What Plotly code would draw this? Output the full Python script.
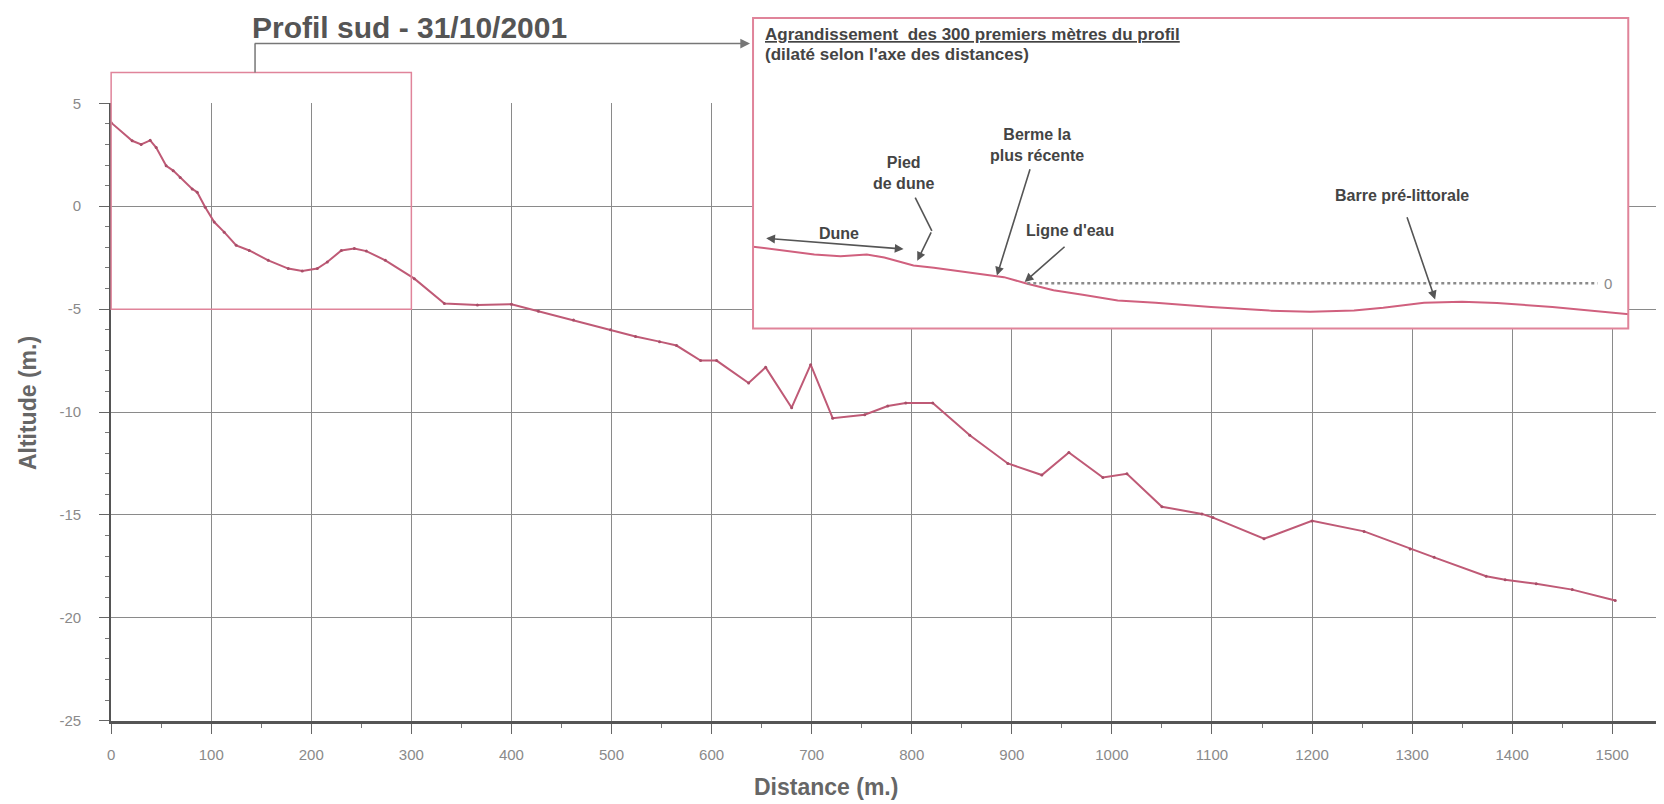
import plotly.graph_objects as go

# ---------------- data ----------------
distance_m = [0, 21, 30, 39, 45, 55, 62, 69, 81, 86, 94, 103, 113, 125, 138, 157, 177, 191,
              206, 216, 230, 243, 255, 274, 303, 333, 366, 400, 427, 462, 499, 524, 548, 565,
              589, 605, 637, 654, 680, 699, 721, 753, 776, 794, 821, 858, 896, 930, 957, 991,
              1015, 1050, 1090, 1101, 1152, 1200, 1252, 1298, 1322, 1374, 1393, 1424, 1460, 1503]
altitude_m = [4.06, 3.18, 3.0, 3.2, 2.85, 1.97, 1.73, 1.4, 0.84, 0.68, -0.05, -0.77, -1.26, -1.9,
              -2.15, -2.63, -3.03, -3.15, -3.03, -2.71, -2.15, -2.06, -2.18, -2.63, -3.52, -4.73,
              -4.8, -4.76, -5.1, -5.53, -6.0, -6.33, -6.58, -6.77, -7.5, -7.5, -8.59, -7.83, -9.79,
              -7.7, -10.3, -10.13, -9.71, -9.56, -9.56, -11.13, -12.5, -13.06, -11.97, -13.18,
              -13.0, -14.6, -14.95, -15.13, -16.16, -15.29, -15.8, -16.65, -17.06, -17.98, -18.15,
              -18.35, -18.63, -19.16]
x_ticks = list(range(0, 1501, 100))
y_ticks = [-25, -20, -15, -10, -5, 0, 5]
y_tick_labels = ["-25", "-20", "-15", "-10", "-5", "0", "5"]

title_text = "Profil sud - 31/10/2001"
inset_title_1 = "Agrandissement  des 300 premiers mètres du profil"
inset_title_2 = "(dilaté selon l'axe des distances)"
water_level = 0
water_line_x = [94, 289.5]

# ---------------- layout helpers ----------------
W, H = 1664, 804
# observed mapping figure-pixel -> photographed pixel
AX, BX, AY, BY = 0.995, 9.0, 0.983, 15.3
def fxp(R):   # photographed x -> figure pixel
    return (R - BX) / AX
def fyp(R):
    return (R - BY) / AY
def px(R):
    return min(max(fxp(R) / W, 0.0), 1.0)
def py(R):
    return min(max(1 - fyp(R) / H, 0.0), 1.0)

MAIN_L, MAIN_R, MAIN_T, MAIN_B = 108, 1655, 102, 722
X_RANGE = [0, 1548]
Y_RANGE = [-25, 5]
INS_L, INS_R, INS_T, INS_B = 749, 1623, 11, 328
INS_Y_RANGE = [-5, 30]
ins_top_R = max(INS_T, BY + 1)
ins_y_top = INS_Y_RANGE[1] - (ins_top_R - INS_T) / (INS_B - INS_T) * (INS_Y_RANGE[1] - INS_Y_RANGE[0])

def mx(v):
    return MAIN_L + (v - X_RANGE[0]) / (X_RANGE[1] - X_RANGE[0]) * (MAIN_R - MAIN_L)
def my(v):
    return MAIN_B - (v - Y_RANGE[0]) / (Y_RANGE[1] - Y_RANGE[0]) * (MAIN_B - MAIN_T)

PINK = "#bf5a76"
PINK_BOX = "#e0849a"
GRID = "#8a8a8a"
AXIS = "#555555"
TXT = "#444444"
FONT = "Liberation Sans, Arial, sans-serif"

fig = go.Figure()
fig.add_trace(go.Scatter(x=distance_m, y=altitude_m, mode="lines+markers",
                         line=dict(color=PINK, width=2),
                         marker=dict(size=3, color="#a84e68"),
                         xaxis="x", yaxis="y", hoverinfo="skip"))
fig.add_trace(go.Scatter(x=distance_m, y=altitude_m, mode="lines",
                         line=dict(color="#d0607e", width=2),
                         xaxis="x2", yaxis="y2", hoverinfo="skip"))

shapes = []
annotations = []

CONN_Y = 42
# magnified-region box on the main chart (0-300 m, down to -5 m)
shapes.append(dict(type="rect", xref="paper", yref="paper",
                   x0=px(mx(0)), x1=px(mx(300)), y0=py(my(-5)), y1=py(71),
                   line=dict(color=PINK_BOX, width=1.5), fillcolor="rgba(0,0,0,0)", layer="above"))
# connector to the inset
shapes.append(dict(type="line", xref="paper", yref="paper",
                   x0=px(251.7), x1=px(251.7), y0=py(71), y1=py(CONN_Y),
                   line=dict(color="#777777", width=1.5)))
annotations.append(dict(xref="paper", yref="paper", x=px(746), y=py(CONN_Y),
                        ax=fxp(251.7) - fxp(746), ay=0, axref="pixel", ayref="pixel",
                        text="", showarrow=True, arrowhead=2, arrowsize=1.3,
                        arrowwidth=1.5, arrowcolor="#777777"))
# inset frame
shapes.append(dict(type="rect", xref="paper", yref="paper",
                   x0=px(INS_L), x1=px(INS_R), y0=py(INS_B), y1=1 - 1.0 / H,
                   line=dict(color=PINK_BOX, width=2), fillcolor="rgba(0,0,0,0)", layer="above"))
# water line in the inset
shapes.append(dict(type="line", xref="x2", yref="y2",
                   x0=water_line_x[0], x1=water_line_x[1], y0=water_level, y1=water_level,
                   line=dict(color="#8a8a8a", width=2.5, dash="dot"), layer="above"))
annotations.append(dict(xref="x2", yref="y2", x=293, y=water_level, text="0",
                        showarrow=False, font=dict(family=FONT, size=15, color="#8a8a8a")))

# title (baseline near y=36 of the photo)
TITLE_FS = 30
title_bottom_fig = fyp(36) + 0.212 * TITLE_FS + 2
annotations.append(dict(xref="paper", yref="paper", x=px(247), y=1 - title_bottom_fig / H,
                        xanchor="left", yanchor="bottom", text="<b>" + title_text + "</b>",
                        showarrow=False, font=dict(family=FONT, size=TITLE_FS, color="#555555")))
# inset titles
annotations.append(dict(xref="paper", yref="paper", x=px(759), y=py(33),
                        xanchor="left", yanchor="middle",
                        text="<b><u>" + inset_title_1 + "</u></b>",
                        showarrow=False, font=dict(family=FONT, size=17, color=TXT)))
annotations.append(dict(xref="paper", yref="paper", x=px(759), y=py(53),
                        xanchor="left", yanchor="middle", text="<b>" + inset_title_2 + "</b>",
                        showarrow=False, font=dict(family=FONT, size=17, color=TXT)))

# inset labels
lab_font = dict(family=FONT, size=16, color=TXT)
def label(x, y, text):
    annotations.append(dict(xref="x2", yref="y2", x=x, y=y, text="<b>" + text + "</b>",
                            showarrow=False, font=lab_font, align="center",
                            xanchor="center", yanchor="middle"))
def arrow(x0, y0, x1, y1, side="end"):
    annotations.append(dict(xref="x2", yref="y2", axref="x2", ayref="y2",
                            x=x1, y=y1, ax=x0, ay=y0, text="", showarrow=True,
                            arrowhead=2, startarrowhead=2, arrowside=side, arrowsize=1.1,
                            arrowwidth=1.6, arrowcolor="#555555"))

label(29.4, 5.5, "Dune")
arrow(4.0, 5.0, 51.6, 3.8, side="end+start")
label(51.6, 12.2, "Pied<br>de dune")
shapes.append(dict(type="line", xref="x2", yref="y2", x0=55.6, y0=9.5, x1=61.3, y1=5.8,
                   line=dict(color="#555555", width=1.6)))
arrow(61.3, 5.8, 56.3, 2.5)
label(97.5, 15.3, "Berme la<br>plus récente")
arrow(95.1, 12.8, 83.6, 0.85)
label(108.7, 5.8, "Ligne d'eau")
arrow(107.3, 4.2, 93.1, 0.15)
label(222.5, 9.7, "Barre pré-littorale")
arrow(224.0, 7.5, 233.8, -1.8)

# axis titles
annotations.append(dict(xref="paper", yref="paper", x=px(25), y=py(403),
                        xanchor="center", yanchor="middle",
                        text="<b>Altitude (m.)</b>", textangle=-90, showarrow=False,
                        font=dict(family=FONT, size=23, color="#666666")))
annotations.append(dict(xref="paper", yref="paper", x=px(822), y=1 - 802.0 / H,
                        xanchor="center", yanchor="bottom",
                        text="<b>Distance (m.)</b>", showarrow=False,
                        font=dict(family=FONT, size=23, color="#666666")))

tickfont = dict(family=FONT, size=15, color="#8a8a8a")
fig.update_layout(
    width=W, height=H, margin=dict(l=0, r=0, t=0, b=0),
    paper_bgcolor="white", plot_bgcolor="white", showlegend=False,
    xaxis=dict(domain=[px(MAIN_L), px(MAIN_R)], range=X_RANGE, tickvals=x_ticks,
               showgrid=True, gridcolor=GRID, gridwidth=1, zeroline=False,
               showline=True, linecolor=AXIS, linewidth=3,
               ticks="outside", ticklen=10, tickcolor="#666666", tickwidth=1,
               minor=dict(dtick=50, ticks="outside", ticklen=4, tickcolor="#777777", showgrid=False),
               tickfont=tickfont, ticklabelstandoff=8, anchor="y"),
    yaxis=dict(domain=[py(MAIN_B), py(MAIN_T)], range=Y_RANGE, tickvals=y_ticks,
               ticktext=y_tick_labels,
               showgrid=True, gridcolor=GRID, gridwidth=1.2, zeroline=False,
               showline=True, linecolor=AXIS, linewidth=2, mirror="ticks",
               ticks="outside", ticklen=10, tickcolor="#666666", tickwidth=1,
               minor=dict(dtick=1, ticks="outside", ticklen=4, tickcolor="#777777", showgrid=False),
               tickfont=tickfont, ticklabelstandoff=15, anchor="x"),
    xaxis2=dict(domain=[px(INS_L), px(INS_R)], range=[0, 300], showgrid=False, zeroline=False,
                showticklabels=False, ticks="", showline=False, anchor="y2"),
    yaxis2=dict(domain=[py(INS_B), py(ins_top_R)], range=[INS_Y_RANGE[0], ins_y_top],
                showgrid=False, zeroline=False,
                showticklabels=False, ticks="", showline=False, anchor="x2"),
    shapes=shapes, annotations=annotations,
)

fig.write_html("out.html")
